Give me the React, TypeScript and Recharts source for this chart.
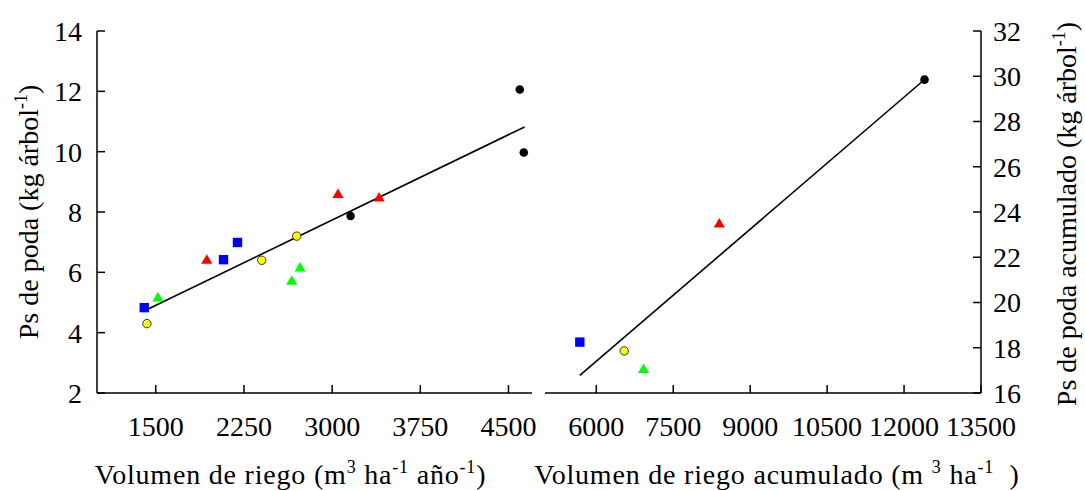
import React from 'react';
import { ScatterChart, Scatter, XAxis, YAxis, ReferenceLine, Label } from 'recharts';

const FONT = "'Liberation Serif'";

// ---------- Left panel: annual values ----------
const leftXTicks = [1500, 2250, 3000, 3750, 4500];
const leftYTicks = [2, 4, 6, 8, 10, 12, 14];
const leftXDomain: [number, number] = [1000, 4700];
const leftYDomain: [number, number] = [2, 14];

const blueX = [1402, 2076, 2195];
const blueY = [4.83, 6.42, 6.99];
const yellowX = [1425, 2401, 2699];
const yellowY = [4.3, 6.4, 7.2];
const greenX = [1518, 2656, 2727];
const greenY = [5.18, 5.74, 6.18];
const redX = [1934, 3050, 3400];
const redY = [6.43, 8.61, 8.5];
const blackX = [3157, 4596, 4630];
const blackY = [7.87, 12.06, 9.97];

const leftFitX = [1396, 4637];
const leftFitY = [4.71, 10.82];

// ---------- Right panel: accumulated values ----------
const rightXTicks = [6000, 7500, 9000, 10500, 12000, 13500];
const rightYTicks = [16, 18, 20, 22, 24, 26, 28, 30, 32];
const rightXDomain: [number, number] = [5000, 13500];
const rightYDomain: [number, number] = [16, 32];

const accBlueX = [5679];
const accBlueY = [18.25];
const accYellowX = [6544];
const accYellowY = [17.86];
const accGreenX = [6922];
const accGreenY = [17.08];
const accRedX = [8398];
const accRedY = [23.51];
const accBlackX = [12399];
const accBlackY = [29.85];

const rightFitX = [5679, 12367];
const rightFitY = [16.78, 29.79];

const zip = (xs: number[], ys: number[]) => xs.map((x, i) => ({ x, y: ys[i] }));

const Square = (p: any) => (
  <rect x={p.cx - 4.7} y={p.cy - 4.7} width={9.4} height={9.4} fill="#0000ff" />
);
const makeTri = (color: string) => (p: any) => (
  <polygon
    points={`${p.cx},${p.cy - 5} ${p.cx + 5.6},${p.cy + 4.5} ${p.cx - 5.6},${p.cy + 4.5}`}
    fill={color}
  />
);
const YellowDot = (p: any) => (
  <circle cx={p.cx} cy={p.cy} r={4.2} fill="#ffff00" stroke="#333" strokeWidth={1} />
);
const BlackDot = (p: any) => <circle cx={p.cx} cy={p.cy} r={4.3} fill="#000" />;

const tickStyle: any = { fill: '#000', fontSize: 28, style: { fontFamily: FONT } };
const SUP = 18;

const renderParts = (parts: any[]) =>
  parts.map((pt: any, i: number) =>
    pt.sup ? (
      <tspan key={i} fontSize={SUP} dy={-11}>{pt.t}</tspan>
    ) : (
      <tspan key={i} dy={i > 0 && parts[i - 1].sup ? 11 : 0}>{pt.t}</tspan>
    )
  );

const HTitle = ({ viewBox, dx, baseline, parts }: any) => {
  const cx = viewBox.x + viewBox.width / 2 + dx;
  return (
    <text
      x={cx}
      y={baseline}
      textAnchor="middle"
      fontSize={28}
      letterSpacing={0.8}
      fill="#000"
      style={{ fontFamily: FONT }}
    >
      {renderParts(parts)}
    </text>
  );
};

const VTitle = ({ x, cy, parts }: any) => (
  <text
    x={x}
    y={cy}
    transform={`rotate(-90, ${x}, ${cy})`}
    textAnchor="middle"
    fontSize={28}
    fill="#000"
    style={{ fontFamily: FONT }}
  >
    {renderParts(parts)}
  </text>
);

const leftXTitle = [
  { t: 'Volumen de riego (m' },
  { t: '3', sup: true },
  { t: ' ha' },
  { t: '-1', sup: true },
  { t: ' año' },
  { t: '-1', sup: true },
  { t: ')' },
];
const rightXTitle = [
  { t: 'Volumen de riego acumulado (m ' },
  { t: '3', sup: true },
  { t: ' ha' },
  { t: '-1', sup: true },
  { t: '\u00a0\u00a0)' },
];
const leftYTitle = [{ t: 'Ps de poda (kg árbol' }, { t: '-1', sup: true }, { t: ')' }];
const rightYTitle = [{ t: 'Ps de poda acumulado (kg árbol' }, { t: '-1', sup: true }, { t: ')' }];

export default function App() {
  return (
    <div
      style={{
        position: 'absolute',
        left: 0,
        top: 0,
        width: 1085,
        height: 490,
        background: '#fff',
        fontFamily: FONT,
      }}
    >
      <div style={{ position: 'absolute', left: 0, top: 0 }}>
        <ScatterChart width={545} height={490} margin={{ top: 31, right: 13, bottom: 0, left: 0 }}>
          <XAxis
            xAxisId="b"
            type="number"
            dataKey="x"
            domain={leftXDomain}
            ticks={leftXTicks}
            interval={0}
            allowDataOverflow
            height={97}
            tickSize={-8}
            tickMargin={31}
            stroke="#000"
            strokeWidth={1.5}
            tick={tickStyle}
          >
            <Label content={(p: any) => <HTitle viewBox={p.viewBox} dx={-24} baseline={484} parts={leftXTitle} />} />
          </XAxis>
          <XAxis
            xAxisId="t"
            type="number"
            orientation="top"
            domain={leftXDomain}
            ticks={leftXTicks}
            allowDataOverflow
            height={0}
            tick={false}
            tickLine={false}
            stroke="#000"
            strokeWidth={1.5}
          />
          <YAxis
            yAxisId="l"
            type="number"
            dataKey="y"
            domain={leftYDomain}
            ticks={leftYTicks}
            interval={0}
            allowDataOverflow
            width={97}
            tickSize={-8}
            tickMargin={23}
            stroke="#000"
            strokeWidth={1.5}
            tick={tickStyle}
          >
            <Label content={() => <VTitle x={38} cy={212} parts={leftYTitle} />} />
          </YAxis>
          <YAxis
            yAxisId="r"
            type="number"
            orientation="right"
            domain={leftYDomain}
            ticks={leftYTicks}
            allowDataOverflow
            width={0}
            tickSize={-8}
            tick={false}
            stroke="#000"
            strokeWidth={1.5}
          />
          <ReferenceLine
            xAxisId="b"
            yAxisId="l"
            segment={zip(leftFitX, leftFitY)}
            stroke="#000"
            strokeWidth={1.6}
          />
          <Scatter xAxisId="b" yAxisId="l" data={zip(blueX, blueY)} shape={Square} isAnimationActive={false} />
          <Scatter xAxisId="b" yAxisId="l" data={zip(yellowX, yellowY)} shape={YellowDot} isAnimationActive={false} />
          <Scatter xAxisId="b" yAxisId="l" data={zip(greenX, greenY)} shape={makeTri('#00ff00')} isAnimationActive={false} />
          <Scatter xAxisId="b" yAxisId="l" data={zip(redX, redY)} shape={makeTri('#ff0000')} isAnimationActive={false} />
          <Scatter xAxisId="b" yAxisId="l" data={zip(blackX, blackY)} shape={BlackDot} isAnimationActive={false} />
        </ScatterChart>
      </div>
      <div style={{ position: 'absolute', left: 520, top: 0 }}>
        <ScatterChart width={565} height={490} margin={{ top: 31, right: 0, bottom: 0, left: 25 }}>
          <XAxis
            xAxisId="b"
            type="number"
            dataKey="x"
            domain={rightXDomain}
            ticks={rightXTicks}
            interval={0}
            allowDataOverflow
            height={97}
            tickSize={-8}
            tickMargin={31}
            stroke="#000"
            strokeWidth={1.5}
            tick={tickStyle}
          >
            <Label content={(p: any) => <HTitle viewBox={p.viewBox} dx={14} baseline={484} parts={rightXTitle} />} />
          </XAxis>
          <XAxis
            xAxisId="t"
            type="number"
            orientation="top"
            domain={rightXDomain}
            ticks={rightXTicks}
            allowDataOverflow
            height={0}
            tick={false}
            tickLine={false}
            stroke="#000"
            strokeWidth={1.5}
          />
          <YAxis
            yAxisId="l"
            type="number"
            orientation="left"
            domain={rightYDomain}
            ticks={rightYTicks}
            allowDataOverflow
            width={0}
            tickSize={-8}
            tick={false}
            stroke="#000"
            strokeWidth={1.5}
          />
          <YAxis
            yAxisId="r"
            type="number"
            orientation="right"
            dataKey="y"
            domain={rightYDomain}
            ticks={rightYTicks}
            interval={0}
            allowDataOverflow
            width={104}
            tickSize={-8}
            tickMargin={20}
            stroke="#000"
            strokeWidth={1.5}
            tick={tickStyle}
          >
            <Label content={() => <VTitle x={556} cy={214} parts={rightYTitle} />} />
          </YAxis>
          <ReferenceLine
            xAxisId="b"
            yAxisId="r"
            segment={zip(rightFitX, rightFitY)}
            stroke="#000"
            strokeWidth={1.6}
          />
          <Scatter xAxisId="b" yAxisId="r" data={zip(accBlueX, accBlueY)} shape={Square} isAnimationActive={false} />
          <Scatter xAxisId="b" yAxisId="r" data={zip(accYellowX, accYellowY)} shape={YellowDot} isAnimationActive={false} />
          <Scatter xAxisId="b" yAxisId="r" data={zip(accGreenX, accGreenY)} shape={makeTri('#00ff00')} isAnimationActive={false} />
          <Scatter xAxisId="b" yAxisId="r" data={zip(accRedX, accRedY)} shape={makeTri('#ff0000')} isAnimationActive={false} />
          <Scatter xAxisId="b" yAxisId="r" data={zip(accBlackX, accBlackY)} shape={BlackDot} isAnimationActive={false} />
        </ScatterChart>
      </div>
    </div>
  );
}
